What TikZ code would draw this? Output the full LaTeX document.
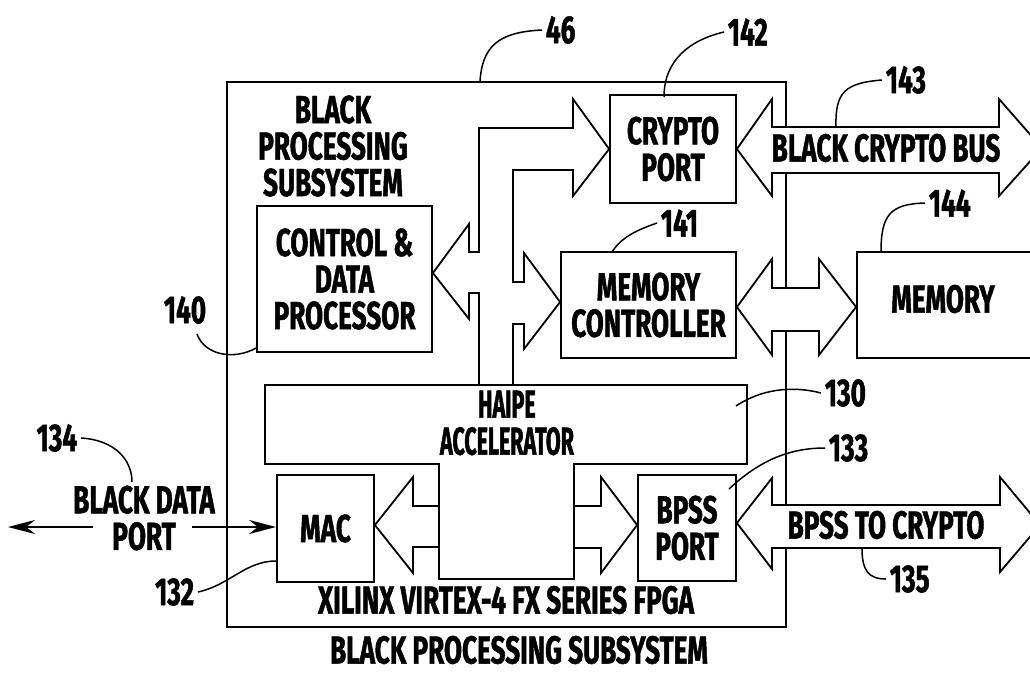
\documentclass[tikz,border=0pt]{standalone}
\usepackage{fontspec}
\setmainfont{Fira Sans}
\newfontfamily\pf{Fira Sans}[FakeStretch=0.67,FakeBold=1.2]
\newfontfamily\pfn{Fira Sans}[FakeStretch=0.55,FakeBold=1.2]
\usetikzlibrary{arrows.meta}
\begin{document}
\begin{tikzpicture}[x=1pt,y=-1pt,line width=1.8pt,line join=miter,
  every node/.style={font=\pf\bfseries\fontsize{39}{36.5}\selectfont,inner sep=0pt,align=center},
  box/.style={draw,rectangle},
  lab/.style={inner sep=3pt},
  lead/.style={line width=1.5pt},
  fat/.style={line width=1.8pt},
  thin/.style={line width=1.6pt,-{Stealth[length=27pt,width=14pt]}}]
\useasboundingbox (0,0) rectangle (1030,672);
\clip (0,0) rectangle (1030,672);

% outer box (46)
\coordinate (oTL) at (227,82);
\coordinate (oTR) at (786,82);
\coordinate (oBL) at (227,627);
\coordinate (oBR) at (786,627);
\draw (786,127) -- (oTR) -- (oTL) -- (oBL) -- (oBR) -- (786,548);
\draw (786,173) -- (786,288);
\draw (786,331) -- (786,505);
\node (title) at (333,146) {BLACK\\PROCESSING\\SUBSYSTEM};

% boxes
\node[box,minimum width=175pt,minimum height=146pt] (ctrl) at (344.5,279) {CONTROL \&\\DATA\\PROCESSOR};
\node[box,minimum width=126pt,minimum height=108pt] (crypto) at (673,149) {CRYPTO\\PORT};
\node[box,minimum width=175pt,minimum height=106pt] (memctl) at (648.5,305) {MEMORY\\CONTROLLER};
\node[box,minimum width=193pt,minimum height=106pt] (mem) at (953.5,305) {};
\node (memtxt) at (943,299) {MEMORY};
\node[box,minimum width=97pt,minimum height=107pt] (mac) at (325.5,528.5) {MAC};
\node[box,minimum width=98pt,minimum height=106pt] (bpss) at (687,528) {BPSS\\PORT};

% HAIPE accelerator (T shape)
\draw (265,385) -- (747,385) -- (747,464) -- (574,464) -- (574,579) -- (439,579) -- (439,464) -- (265,464) -- cycle;
\node[font=\pfn\bfseries\fontsize{39}{37}\selectfont] (haipe) at (507,423) {HAIPE\\ACCELERATOR};

% internal bus tree
\draw[fat] (479,385) -- (479,293) -- (469,293) -- (469,319) -- (ctrl.east |- 0,273) -- (469,224) -- (469,252) -- (479,252)
  -- (479,128) -- (573,128) -- (573,99) -- (crypto.west) -- (573,196) -- (573,170) -- (513,170)
  -- (513,282) -- (524,282) -- (524,253) -- (memctl.west |- 0,302) -- (524,349) -- (524,324) -- (513,324) -- (513,385);

% black crypto bus
\draw[fat] (772,127) -- (772,99) -- (crypto.east) -- (772,196) -- (772,173) -- (999,173) -- (999,196) -- (1042,148) -- (999,99) -- (999,127) -- cycle;
\node (cbus) at (886,148) {BLACK CRYPTO BUS};

% memory bus
\draw[fat] (772,288) -- (772,259) -- (memctl.east |- 0,307) -- (772,355) -- (772,331) -- (819,331) -- (819,355) -- (mem.west |- 0,307) -- (819,259) -- (819,288) -- cycle;

% BPSS to crypto bus
\draw[fat] (772,505) -- (772,478) -- (bpss.east |- 0,523) -- (772,569) -- (772,548) -- (1000,548) -- (1000,572) -- (1040,525) -- (1000,477) -- (1000,505) -- cycle;
\node (bbus) at (886,525) {BPSS TO CRYPTO};

% HAIPE to MAC and BPSS
\draw[fat] (439,506) -- (413,506) -- (413,477) -- (mac.east |- 0,525) -- (413,573) -- (413,547) -- (439,547);
\draw[fat] (574,506) -- (601,506) -- (601,477) -- (bpss.west |- 0,525) -- (601,573) -- (601,548) -- (574,548);

% black data port
\node (dport) at (144,518) {BLACK DATA\\PORT};
\coordinate (dpL) at (8,527);
\coordinate (dpA) at (93,527);
\coordinate (dpB) at (192,527);
\draw[thin] (dpA) -- (dpL);
\draw[thin] (dpB) -- (mac.west |- dpB);

% bottom texts
\node (fpga) at (506,600) {XILINX VIRTEX-4 FX SERIES FPGA};
\node (bps) at (519,650) {BLACK PROCESSING SUBSYSTEM};

% reference labels and leaders
\node[lab,anchor=west] (l46) at (542,30) {46};
\draw[lead] (480,82) .. controls (482,45) and (500,32) .. (l46.west);
\node[lab,anchor=west] (l142) at (724,32) {142};
\draw[lead] (664,97) .. controls (664,60) and (690,40) .. (l142.west);
\node[lab,anchor=west] (l143) at (882,80) {143};
\draw[lead] (836,127) .. controls (835,92) and (845,83) .. (l143.west);
\node[lab,anchor=west] (l141) at (657,223) {141};
\draw[lead] (612,252) .. controls (622,236) and (640,229) .. (l141.west);
\node[lab,anchor=west] (l144) at (925,203) {144};
\draw[lead] (881,252) .. controls (881,215) and (890,204) .. (l144.west);
\node[lab] (l140) at (185,310) {140};
\coordinate (c140) at (197,334);
\draw[lead] (c140) .. controls (205,356) and (235,360) .. (ctrl.south west |- 0,348);
\node[lab,anchor=west] (l130) at (821,393) {130};
\draw[lead] (736,406) .. controls (760,390) and (790,385) .. (l130.west);
\node[lab,anchor=west] (l133) at (825,448) {133};
\draw[lead] (729,489) .. controls (760,460) and (790,448) .. (l133.west);
\node[lab,anchor=west] (l135) at (886,579) {135};
\draw[lead] (862,548) .. controls (862,570) and (868,579) .. (l135.west);
\node[lab,anchor=east] (l134) at (81,438) {134};
\draw[lead] (l134.east) .. controls (115,440) and (132,460) .. (132,482);
\node[lab,anchor=east] (l132) at (198,592) {132};
\draw[lead] (l132.east) .. controls (230,585) and (245,561) .. (mac.west |- 0,561);
\end{tikzpicture}
\end{document}
